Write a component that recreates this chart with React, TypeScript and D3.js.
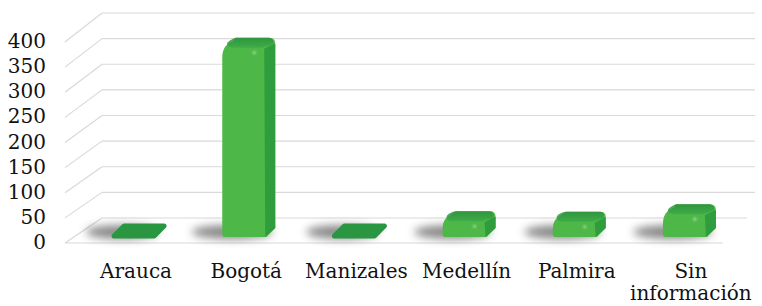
import React from "react";
import * as d3 from "d3";

const categories = ["Arauca", "Bogotá", "Manizales", "Medellín", "Palmira", "Sin información"];
const values = [2, 375, 2, 33, 32, 47];
const yTicks = [0, 50, 100, 150, 200, 250, 300, 350, 400];

const W = 762;
const H = 306;

export default function App() {
  const yFront = d3.scaleLinear().domain([0, 400]).range([243, 42]);
  const yBack = d3.scaleLinear().domain([0, 400]).range([218, 13]);
  const yBar = d3.scaleLinear().domain([0, 400]).range([237, 34]);
  const x = d3.scaleBand<string>().domain(categories).range([79, 740]);

  const frontLeft = 65;
  const backLeft = 102;
  const backRight = 755;
  const frontRight = 723;

  const barW = 44;
  const dX = 9;
  const dY = 9;

  const front = "#4db848";
  const side = "#2f9c3e";
  const top = "#35a044";

  return (
    <svg width={W} height={H} style={{ position: "absolute", left: 0, top: 0, background: "#fff" }}>
      <defs>
        <filter id="blur" x="-50%" y="-100%" width="200%" height="300%">
          <feGaussianBlur stdDeviation="4.5" />
        </filter>
        <filter id="hl" x="-200%" y="-200%" width="500%" height="500%">
          <feGaussianBlur stdDeviation="1" />
        </filter>
        <linearGradient id="topg" x1="0" y1="1" x2="0" y2="0">
          <stop offset="0" stopColor="#3daa47" />
          <stop offset="1" stopColor="#2a8f3d" />
        </linearGradient>
      </defs>
      {/* gridlines */}
      {yTicks.map((t) => (
        <g key={t}>
          <line x1={frontLeft} y1={yFront(t)} x2={backLeft} y2={yBack(t)} stroke="#d9d9d9" strokeWidth={1.2} />
          <line x1={backLeft} y1={yBack(t)} x2={t === 0 ? backRight - 8 : backRight} y2={yBack(t)} stroke="#d9d9d9" strokeWidth={1.2} />
        </g>
      ))}
      <line x1={frontLeft} y1={yFront(0)} x2={frontRight} y2={yFront(0)} stroke="#d9d9d9" strokeWidth={1.2} />

      {/* shadows */}
      {categories.map((c, i) => {
        const cx = (x(c) as number) + x.bandwidth() / 2;
        const h = yBar(0) - yBar(values[i]);
        return (
          <ellipse
            key={"s" + c}
            cx={cx - 12}
            cy={yBar(0) - 5}
            rx={barW / 2 + 14 + Math.min(h, 30) * 0.15}
            ry={7}
            fill="#3a3a3a"
            opacity={0.6}
            filter="url(#blur)"
          />
        );
      })}

      {/* bars */}
      {categories.map((c, i) => {
        const cx = (x(c) as number) + x.bandwidth() / 2;
        const x0 = cx - barW / 2;
        const x1 = cx + barW / 2;
        const yb = yBar(0);
        const yt = yBar(values[i]);
        const h = yb - yt;
        const flat = h < 4;
        if (flat) {
          const topFlat = `M${x0 + 2},${yb - 1} L${x0 + dX + 3},${yt - dY - 1} L${x1 + dX - 1},${yt - dY - 1} L${x1 - 2},${yb - 1} Z`;
          return (
            <path key={"b" + c} d={topFlat} fill="#2b9642" stroke="#2b9642" strokeWidth={5} strokeLinejoin="round" />
          );
        }
        const r = Math.min(11, h / 2);
        const rs = Math.min(6, h / 3);
        const silhouette =
          `M${x0},${yb - 3} L${x0},${yt + r} Q${x0},${yt - 2} ${x0 + r},${yt - dY * 0.6}` +
          ` L${x0 + dX + 4},${yt - dY} L${x1 + dX - rs},${yt - dY} Q${x1 + dX},${yt - dY} ${x1 + dX},${yt - dY + rs}` +
          ` L${x1 + dX},${yb - dY} L${x1},${yb} L${x0 + 3},${yb} Q${x0},${yb} ${x0},${yb - 3} Z`;
        const sidePath = `M${x1 - 2},${yt + 2} Q${x1 + dX - 2},${yt - 3} ${x1 + dX},${yt - dY + rs} L${x1 + dX},${yb - dY} L${x1 - 1},${yb} Z`;
        const topPath = `M${x0 + r * 0.5},${yt - dY * 0.5} Q${x0 + r},${yt - dY} ${x0 + dX + 5},${yt - dY} L${x1 + dX - rs},${yt - dY} Q${x1 + dX - 1},${yt - dY + 1} ${x1 + dX - 2},${yt - 3} Q${x1 - 3},${yt + 1} ${x1 - 6},${yt + 1} L${x0 + r},${yt + 1} Q${x0 + 3},${yt} ${x0 + r * 0.5},${yt - dY * 0.5} Z`;
        return (
          <g key={"b" + c}>
            <path d={silhouette} fill={front} />
            <path d={sidePath} fill={side} />
            <path d={topPath} fill="url(#topg)" opacity={0.85} />
            <circle cx={cx + 10} cy={yt + 6} r={1.6} fill="#a6dba0" filter="url(#hl)" />
          </g>
        );
      })}

      {/* y tick labels */}
      {yTicks.map((t) => (
        <text
          key={"t" + t}
          x={46}
          y={yFront(t) - 1}
          textAnchor="end"
          dominantBaseline="central"
          fontFamily="DejaVu Serif"
          fontSize={20}
          fill="#111"
        >
          {t}
        </text>
      ))}

      {/* category labels */}
      {categories.map((c) => {
        const cx = (x(c) as number) + x.bandwidth() / 2;
        const lines = c.split(" ");
        return (
          <text key={"l" + c} textAnchor="middle" fontFamily="DejaVu Serif" fontSize={20} fill="#111">
            {lines.map((ln, k) => (
              <tspan key={k} x={cx + (lines.length > 1 ? 6 : 2)} y={278 + k * 22}>
                {ln}
              </tspan>
            ))}
          </text>
        );
      })}
    </svg>
  );
}
